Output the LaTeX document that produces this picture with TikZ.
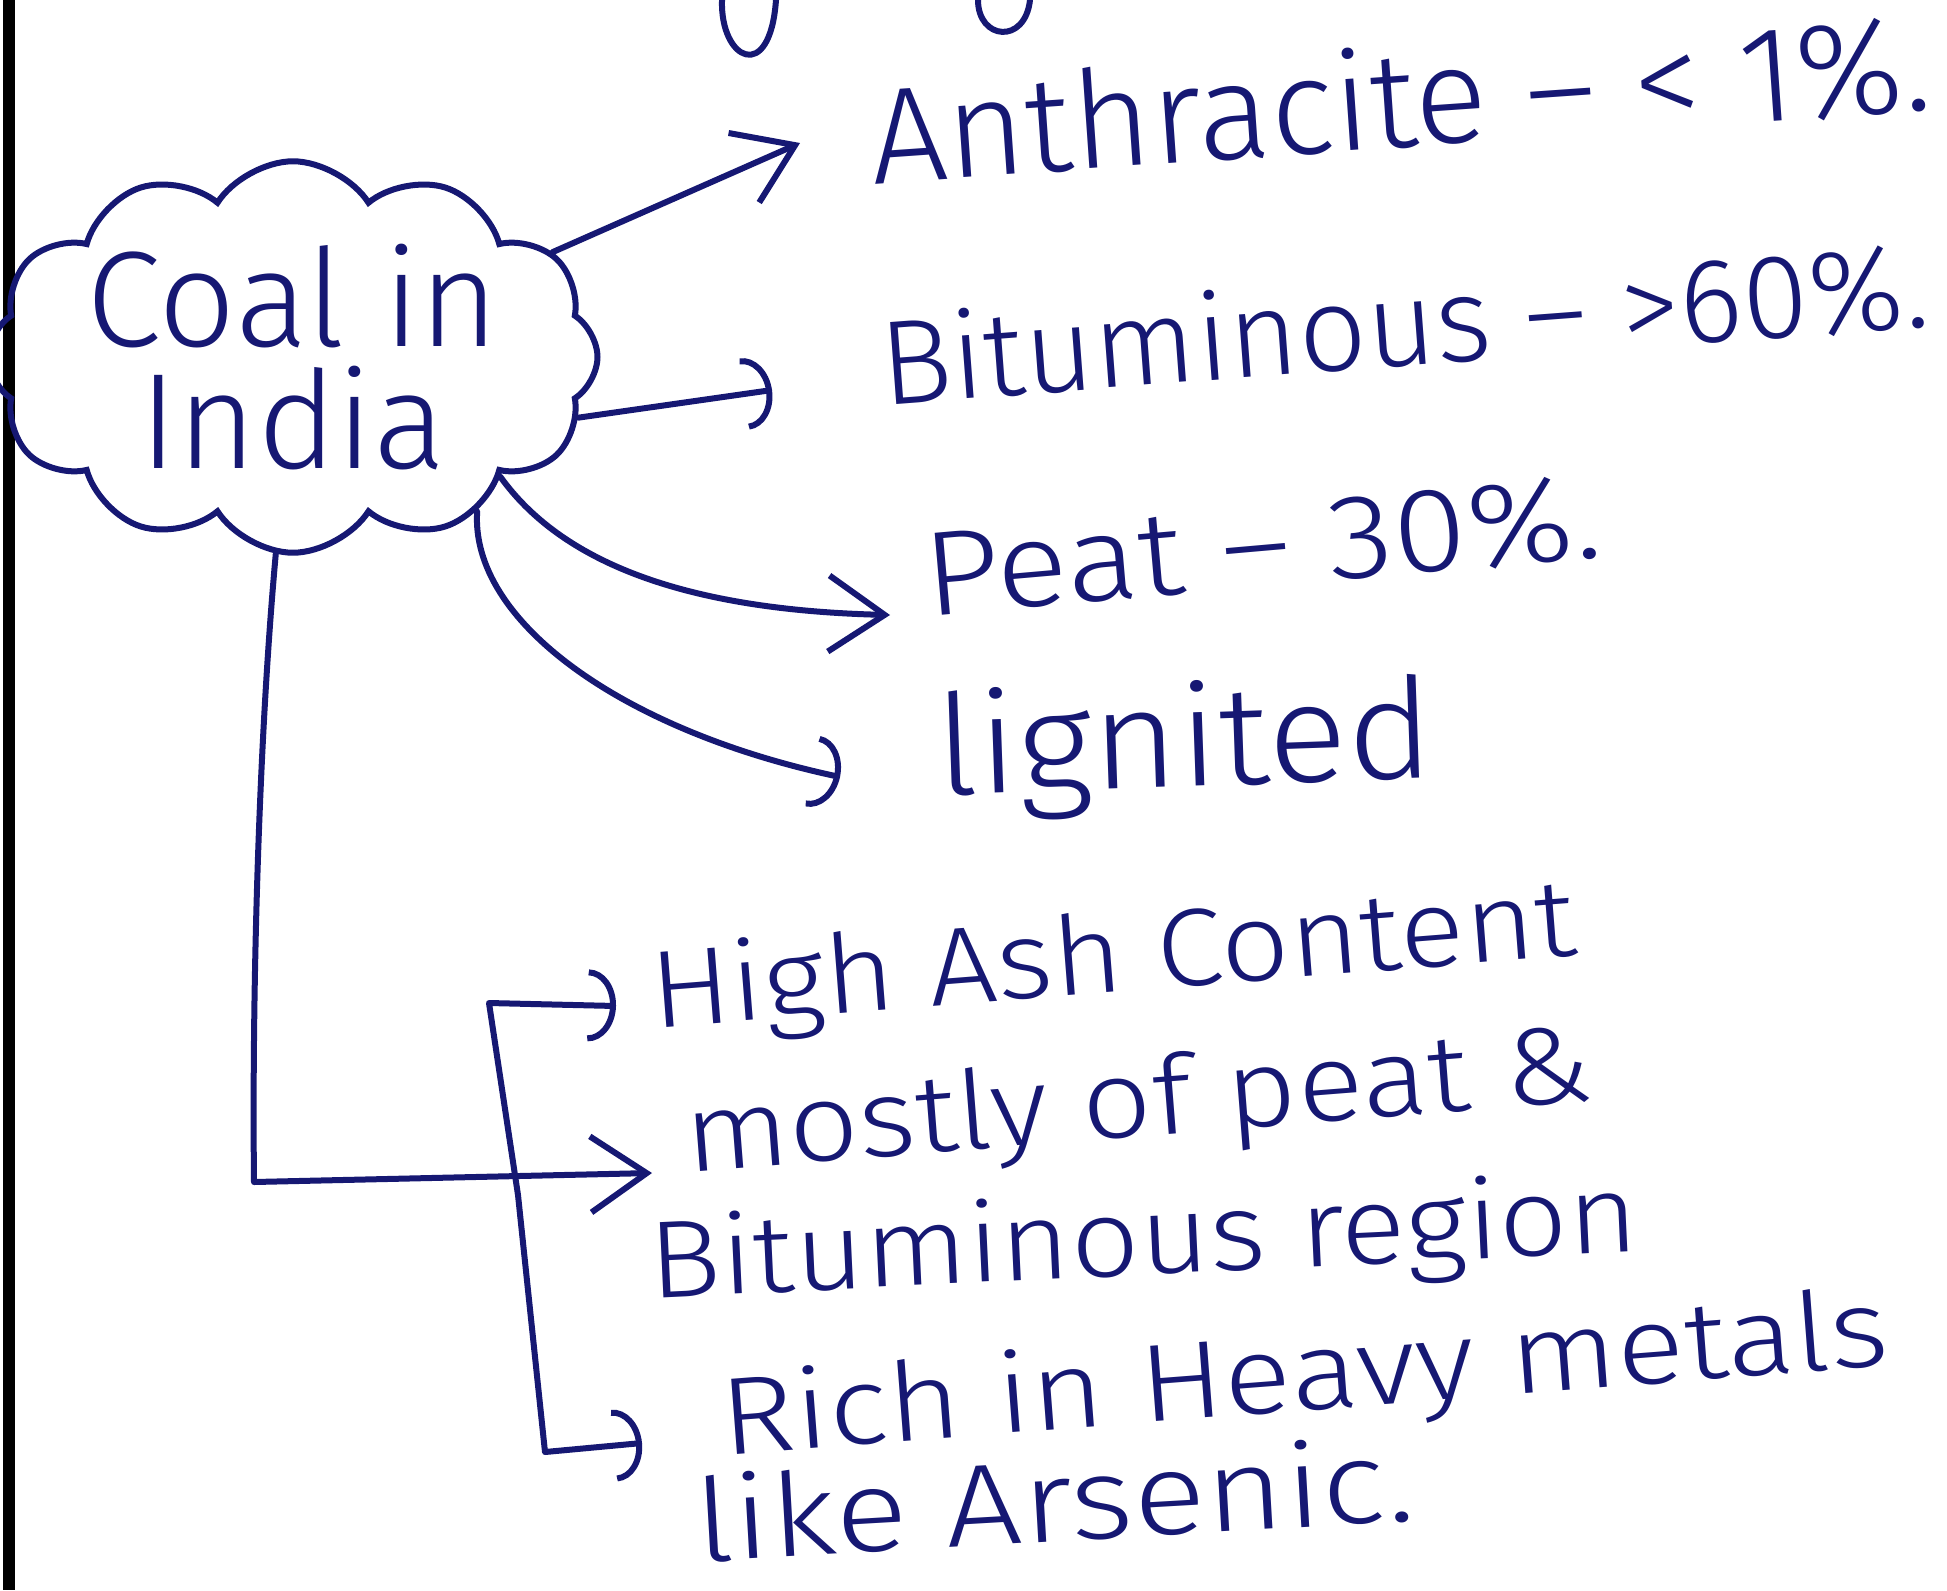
\documentclass[tikz,border=0pt]{standalone}
\usepackage{fontspec}
\usepackage{graphicx}
\setmainfont{Fira Sans Light}
\usetikzlibrary{shapes.symbols,arrows.meta}
\definecolor{ink}{RGB}{22,24,115}
\newcommand{\wide}[2]{\scalebox{#1}[1]{#2}}
\begin{document}
\begin{tikzpicture}[x=0.5pt,y=-0.5pt,
  inkline/.style={draw=ink,line width=3pt,line cap=round,line join=round},
  sharp/.style={inkline,-{Straight Barb[length=28pt,width=38pt]}},
  hook/.style={inkline,-{Arc Barb[length=14pt,width=36pt]}},
  lbl/.style={text=ink,anchor=base west,inner sep=0pt,outer sep=0pt,font=\fontsize{#1}{#1}\selectfont},
]
\fill[white] (0,0) rectangle (1947,1590);
\useasboundingbox (0,0) rectangle (1947,1590);
% page border
\draw[black,line width=6pt] (9,0) -- (9,1590);
% cut-off descenders of the line above
\draw[inkline] (722,0) .. controls (720,60) and (770,85) .. (776,0);
\draw[inkline] (978,0) .. controls (978,40) and (1025,45) .. (1030,0);

% central cloud
\node[cloud,draw=ink,line width=3pt,cloud puffs=12,cloud puff arc=115,cloud ignores aspect,
  minimum width=262pt,minimum height=182pt,inner sep=0pt,align=center,text=ink,
  font=\fontsize{68pt}{61pt}\selectfont] (coal) at (293,357) {Coal in\\India};

% labels
\node[lbl=68pt,rotate=4] (anth) at (873,184) {Anthracite – < 1\%.};
\node[lbl=60pt,rotate=4.3] (bitu) at (883,405) {Bituminous – >60\%.};
\node[lbl=60pt,rotate=5] (peat) at (927,616) {\wide{1.12}{Peat – 30\%.}};
\node[lbl=70pt,rotate=2] (lign) at (937,795) {\wide{1.06}{lignited}};
\node[lbl=55pt,rotate=4.5] (high) at (653,1028) {\wide{1.1}{High Ash Content}};
\node[lbl=55pt,rotate=4.5] (most) at (687,1172) {\wide{1.12}{mostly of peat \&}};
\node[lbl=55pt,rotate=2.7] (bitr) at (650,1298) {\wide{1.1}{Bituminous region}};
\node[lbl=55pt,rotate=4.4] (rich) at (723,1455) {\wide{1.15}{Rich in Heavy metals}};
\node[lbl=58pt,rotate=3.3] (like) at (697,1562) {\wide{1.17}{like Arsenic.}};

% connector end points
\coordinate (e1) at (800,143);
\coordinate (e2) at (772,390);
\coordinate (e3) at (890,615);
\coordinate (e4) at (840,777);
\coordinate (c5) at (254,1182); \coordinate (e5) at (652,1173);
\coordinate (bt) at (489,1003); \coordinate (bm) at (518,1195); \coordinate (bb) at (545,1452);
\coordinate (eH) at (616,1006); \coordinate (eR) at (642,1443);

% connectors
\draw[sharp] (coal.22) -- (e1);
\draw[hook] (coal.-12) -- (e2);
\draw[sharp] (coal.-30) .. controls (560,560) and (680,610) .. (e3);
\draw[hook] (coal.-40) .. controls (470,620) and (620,730) .. (e4);
\draw[sharp] (coal.-95) .. controls (258,750) and (252,1000) .. (c5) -- (e5);
\draw[inkline,{Arc Barb[length=14pt,width=36pt]}-{Arc Barb[length=14pt,width=36pt]}]
  (eH) -- (bt) -- (bm) -- (bb) -- (eR);
\end{tikzpicture}
\end{document}
